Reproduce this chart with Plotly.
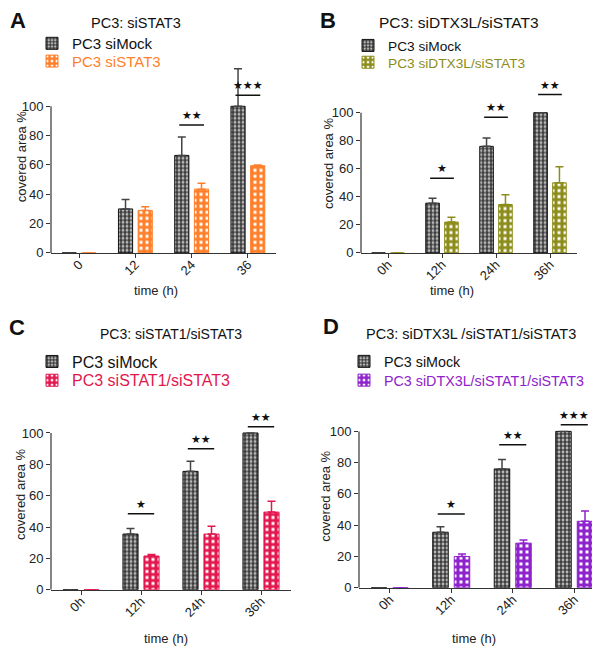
import plotly.graph_objects as go

W, H = 600, 646

# ---------------- data ----------------
cats_A = ["0", "12", "24", "36"]
cats_h = ["0h", "12h", "24h", "36h"]

mock_A = [0, 30, 66.5, 100]
mock_A_err = [0, 6.5, 12.5, 25.5]
stat3_A = [0, 29, 43.5, 59.5]
stat3_A_err = [0, 2.5, 4, 0.5]

mock_B = [0, 35.5, 76, 100]
mock_B_err = [0, 3.5, 6, 0]
dtx_B = [0, 22, 34.5, 50]
dtx_B_err = [0, 3.5, 7, 11.5]

mock_C = [0, 35.5, 75.5, 100]
mock_C_err = [0, 3.5, 6.5, 0]
stat13_C = [0, 21.5, 35.5, 49.5]
stat13_C_err = [0, 1, 5, 7]

mock_D = [0, 35.5, 76, 100]
mock_D_err = [0, 3.5, 6, 0]
trip_D = [0, 20, 28.5, 42.5]
trip_D_err = [0, 1.5, 2, 6.5]

sig_A_idx = [2, 3]
sig_A_y = [87.3, 107.5]
sig_A_txt = ["★★", "★★★"]
sig_B_idx = [1, 2, 3]
sig_B_y = [53.3, 96.7, 112.9]
sig_B_txt = ["★", "★★", "★★"]
sig_C_idx = [1, 2, 3]
sig_C_y = [48.5, 89.9, 104]
sig_C_txt = ["★", "★★", "★★"]
sig_D_idx = [1, 2, 3]
sig_D_y = [47.2, 91.4, 104.2]
sig_D_txt = ["★", "★★", "★★★"]

FONT = "Liberation Sans, Arial, Helvetica, sans-serif"

panels = [
    dict(letter="A", title="PC3: siSTAT3", cats=cats_A,
         mock=mock_A, mock_err=mock_A_err, treat=stat3_A, treat_err=stat3_A_err,
         treat_name="PC3 siSTAT3", color="#FF7F2A",
         sig_idx=sig_A_idx, sig_y=sig_A_y, sig_txt=sig_A_txt,
         xpx=(43, 268), ybot=248, ppu=1.485, yr=130,
         letter_pos=(10, 13), title_pos=(128, 15), title_fs=14.5,
         legend_pos=(24, 36, 54), lfs=15,
         ytitle_pos=(13, 151), xtitle_pos=(148, 286)),
    dict(letter="B", title="PC3: siDTX3L/siSTAT3", cats=cats_h,
         mock=mock_B, mock_err=mock_B_err, treat=dtx_B, treat_err=dtx_B_err,
         treat_name="PC3 siDTX3L/siSTAT3", color="#8C8C1A",
         sig_idx=sig_B_idx, sig_y=sig_B_y, sig_txt=sig_B_txt,
         xpx=(353, 569), ybot=248, ppu=1.42, yr=130,
         letter_pos=(320, 13), title_pos=(451, 15), title_fs=15.5,
         legend_pos=(340, 38, 55), lfs=13.7,
         ytitle_pos=(320, 158), xtitle_pos=(444, 286)),
    dict(letter="C", title="PC3: siSTAT1/siSTAT3", cats=cats_h,
         mock=mock_C, mock_err=mock_C_err, treat=stat13_C, treat_err=stat13_C_err,
         treat_name="PC3 siSTAT1/siSTAT3", color="#E2174E",
         sig_idx=sig_C_idx, sig_y=sig_C_y, sig_txt=sig_C_txt,
         xpx=(43, 283), ybot=589, ppu=1.587, yr=115,
         letter_pos=(9, 323), title_pos=(163, 330), title_fs=14,
         legend_pos=(24, 358, 377), lfs=16,
         ytitle_pos=(13, 493), xtitle_pos=(158, 638)),
    dict(letter="D", title="PC3: siDTX3L /siSTAT1/siSTAT3", cats=cats_h,
         mock=mock_D, mock_err=mock_D_err, treat=trip_D, treat_err=trip_D_err,
         treat_name="PC3 siDTX3L/siSTAT1/siSTAT3", color="#8E22CC",
         sig_idx=sig_D_idx, sig_y=sig_D_y, sig_txt=sig_D_txt,
         xpx=(351, 597), ybot=587, ppu=1.583, yr=115,
         letter_pos=(323, 322), title_pos=(463, 330), title_fs=14.5,
         legend_pos=(336, 358, 377), lfs=14.3,
         ytitle_pos=(318, 495), xtitle_pos=(466, 638)),
]

fig = go.Figure()
annotations = []
shapes = []
layout_extra = {}

for i, p in enumerate(panels):
    n = i + 1
    xa = "x" if n == 1 else f"x{n}"
    ya = "y" if n == 1 else f"y{n}"
    xkey = "xaxis" if n == 1 else f"xaxis{n}"
    ykey = "yaxis" if n == 1 else f"yaxis{n}"
    lkey1 = "legend" if n == 1 else f"legend{n}"
    lkey2 = f"legend{n + 4}"

    fig.add_trace(go.Bar(
        x=p["cats"], y=p["mock"], name="PC3 siMock", xaxis=xa, yaxis=ya,
        legend=lkey1, offsetgroup="m",
        marker=dict(color="#bbbbbb", line=dict(color="#111111", width=1),
                    pattern=dict(shape="+", size=4, solidity=0.5,
                                 fgcolor="#1e1e1e", bgcolor="#b8b8b8", fillmode="replace")),
        error_y=dict(type="data", symmetric=False, array=p["mock_err"],
                     arrayminus=[0] * len(p["mock_err"]), color="#444444",
                     thickness=1.5, width=4),
    ))
    fig.add_trace(go.Bar(
        x=p["cats"], y=p["treat"],
        name=f"<span style='color:{p['color']}'>{p['treat_name']}</span>",
        xaxis=xa, yaxis=ya, legend=lkey2, offsetgroup="t",
        marker=dict(color=p["color"], line=dict(color=p["color"], width=1),
                    pattern=dict(shape="+", size=6, solidity=0.75,
                                 fgcolor=p["color"], bgcolor="white", fillmode="replace")),
        error_y=dict(type="data", symmetric=False, array=p["treat_err"],
                     arrayminus=[0] * len(p["treat_err"]), color=p["color"],
                     thickness=1.5, width=4),
    ))

    x0, x1 = p["xpx"]
    ybot = p["ybot"]
    ytop = ybot - p["ppu"] * p["yr"]
    layout_extra[xkey] = dict(
        domain=[x0 / W, x1 / W], anchor=ya, type="category",
        showline=True, linecolor="#333333", linewidth=1.2,
        ticks="outside", ticklen=4, tickcolor="#333333", tickangle=-45,
        ticklabelstandoff=-6,
        tickfont=dict(size=13, color="#222222", family=FONT),
        showgrid=False, zeroline=False, fixedrange=True,
    )
    layout_extra[ykey] = dict(
        domain=[1 - ybot / H, 1 - ytop / H], anchor=xa, range=[0, p["yr"]],
        showline=False, ticks="outside", ticklen=4, tickcolor="#333333",
        tickvals=[0, 20, 40, 60, 80, 100],
        tickfont=dict(size=13, color="#222222", family=FONT),
        showgrid=False, zeroline=False,
    )
    lx, ly1, ly2 = p["legend_pos"]
    for lk, ly in ((lkey1, ly1), (lkey2, ly2)):
        layout_extra[lk] = dict(
            x=lx / W, y=1 - ly / H, xanchor="left", yanchor="middle",
            xref="paper", yref="paper", bgcolor="rgba(0,0,0,0)",
            font=dict(size=p["lfs"], color="#111111", family=FONT),
            itemwidth=30, borderwidth=0,
        )

    # y axis line only from 0 to 100
    shapes.append(dict(type="line", xref=f"{xa} domain", yref=ya, x0=0, x1=0,
                       y0=0, y1=100, line=dict(color="#333333", width=1.2)))
    # significance lines & stars
    for idx, yv, txt in zip(p["sig_idx"], p["sig_y"], p["sig_txt"]):
        shapes.append(dict(type="line", xref=xa, yref=ya, x0=idx - 0.22, x1=idx + 0.22,
                           y0=yv, y1=yv, line=dict(color="#111111", width=1.5)))
        annotations.append(dict(x=idx, y=yv, xref=xa, yref=ya, text=txt, showarrow=False,
                                xanchor="center", yanchor="bottom", yshift=1,
                                font=dict(size=11, color="#111111", family="DejaVu Sans")))

    # letters and titles
    lxp, lyp = p["letter_pos"]
    annotations.append(dict(x=lxp / W, y=1 - lyp / H, xref="paper", yref="paper",
                            xanchor="center", yanchor="middle",
                            text=f"<b>{p['letter']}</b>", showarrow=False,
                            font=dict(size=22, color="#111111", family=FONT)))
    tx, ty = p["title_pos"]
    annotations.append(dict(x=tx / W, y=1 - ty / H, xref="paper", yref="paper",
                            xanchor="center", yanchor="middle",
                            text=p["title"], showarrow=False,
                            font=dict(size=p["title_fs"], color="#111111", family=FONT)))
    yx, yy = p["ytitle_pos"]
    annotations.append(dict(x=yx / W, y=1 - yy / H, xref="paper", yref="paper",
                            xanchor="center", yanchor="middle",
                            text="covered area %", showarrow=False, textangle=-90,
                            font=dict(size=13, color="#222222", family=FONT)))
    xx, xy = p["xtitle_pos"]
    annotations.append(dict(x=xx / W, y=1 - xy / H, xref="paper", yref="paper",
                            xanchor="center", yanchor="middle",
                            text="time (h)", showarrow=False,
                            font=dict(size=13, color="#222222", family=FONT)))

fig.update_layout(
    width=W, height=H, margin=dict(l=0, r=0, t=0, b=0),
    paper_bgcolor="white", plot_bgcolor="white",
    barmode="group", bargap=0.3, bargroupgap=0.28,
    font=dict(family=FONT, color="#222222"),
    annotations=annotations, shapes=shapes, showlegend=True,
    **layout_extra,
)

fig.write_html("out.html")
